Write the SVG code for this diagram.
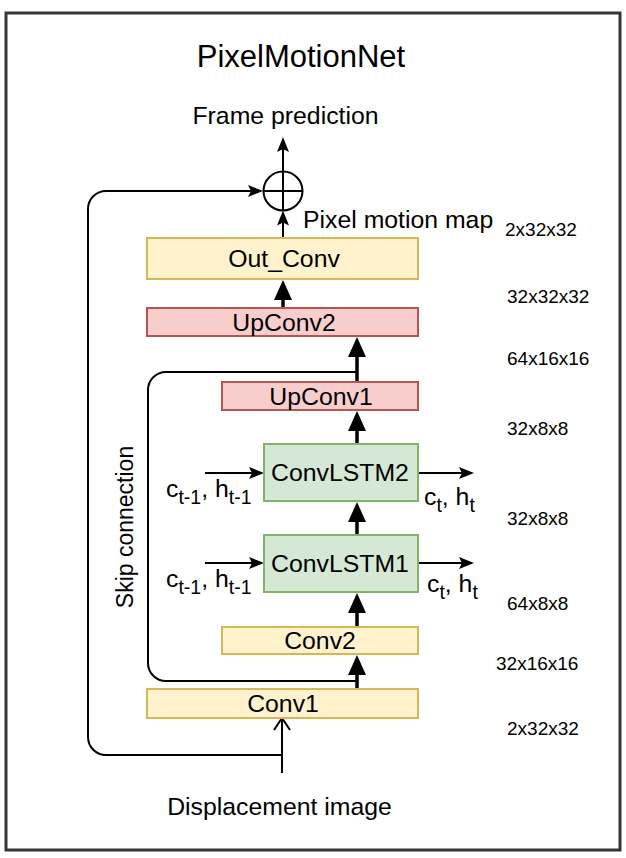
<svg xmlns="http://www.w3.org/2000/svg" width="626" height="858" viewBox="0 0 626 858">
<style>
  text { font-family: "Liberation Sans", Arial, sans-serif; fill: #000; }
  .lbl { font-size: 24.8px; }
  .ctr { text-anchor: middle; }
  .dim { font-size: 19px; }
  .sub { font-size: 19.5px; }
  .yel { fill: #fff2cc; stroke: #d6b656; stroke-width: 2; }
  .red { fill: #f8cecc; stroke: #b85450; stroke-width: 2; }
  .grn { fill: #d5e8d4; stroke: #82b366; stroke-width: 2; }
  .thin { fill: none; stroke: #000; stroke-width: 2; }
  .thick { fill: none; stroke: #000; stroke-width: 3.5; }
</style>
<defs>
  <marker id="big" viewBox="0 0 20 18" refX="8" refY="9" markerWidth="20" markerHeight="18" markerUnits="userSpaceOnUse" orient="auto">
    <path d="M0,0 L20,9 L0,18 z" fill="#000"/>
  </marker>
  <marker id="small" viewBox="0 0 15 12" refX="6" refY="6" markerWidth="15" markerHeight="12" markerUnits="userSpaceOnUse" orient="auto">
    <path d="M0,0 L15,6 L0,12 L3,6 z" fill="#000"/>
  </marker>
  <marker id="open" viewBox="0 0 14 18" refX="13" refY="9" markerWidth="14" markerHeight="18" markerUnits="userSpaceOnUse" orient="auto">
    <path d="M1,1 L13,9 L1,17" fill="none" stroke="#000" stroke-width="2"/>
  </marker>
</defs>
<rect x="0" y="0" width="626" height="858" fill="#fff"/>
<rect id="frame" x="6" y="13" width="614" height="837" fill="none" stroke="#363636" stroke-width="3"/>

<text id="title" x="301" y="67" class="ctr" style="font-size:31px">PixelMotionNet</text>
<text id="frame-prediction" x="285.5" y="124" class="lbl ctr">Frame prediction</text>
<text id="displacement-image" x="279.5" y="815" class="lbl ctr">Displacement image</text>
<text id="pixel-motion-map" x="303" y="228" class="lbl">Pixel motion map</text>
<text id="skip-label" transform="translate(133,527) rotate(-90)" class="ctr" style="font-size:23px">Skip connection</text>

<g id="dims" class="dim">
  <text x="505" y="236" class="dim">2x32x32</text>
  <text x="507" y="303" class="dim">32x32x32</text>
  <text x="507" y="365" class="dim">64x16x16</text>
  <text x="507" y="435" class="dim">32x8x8</text>
  <text x="507" y="525" class="dim">32x8x8</text>
  <text x="507" y="610" class="dim">64x8x8</text>
  <text x="496" y="670" class="dim">32x16x16</text>
  <text x="507" y="735" class="dim">2x32x32</text>
</g>

<g id="connectors">
  <path class="thin" d="M282,773 V718" marker-end="url(#open)"/>
  <path class="thin" d="M282,755 H106 A18,18 0 0 1 88,737 V209 A18,18 0 0 1 106,191 H254" marker-end="url(#small)"/>
  <path class="thin" d="M283,171.5 V146" marker-end="url(#small)"/>
  <path class="thin" d="M283,238 V219.5" marker-end="url(#small)"/>
  <path class="thick" d="M283,308 V292" marker-end="url(#big)"/>
  <path class="thick" d="M357,382 V349" marker-end="url(#big)"/>
  <path class="thick" d="M357,444 V423" marker-end="url(#big)"/>
  <path class="thick" d="M357,535 V514" marker-end="url(#big)"/>
  <path class="thick" d="M357,627 V605" marker-end="url(#big)"/>
  <path class="thick" d="M357,689 V667" marker-end="url(#big)"/>
  <path class="thin" d="M357,681 H166 A18,18 0 0 1 148,663 V390 A18,18 0 0 1 166,372 H357"/>
  <path class="thin" d="M205,473 H255" marker-end="url(#small)"/>
  <path class="thin" d="M205,563 H255" marker-end="url(#small)"/>
  <path class="thin" d="M418,473 H465" marker-end="url(#small)"/>
  <path class="thin" d="M418,563 H465" marker-end="url(#small)"/>
</g>

<g id="sum">
  <circle cx="283" cy="191" r="19.5" fill="#fff" stroke="#000" stroke-width="2"/>
  <path d="M263.5,191 H302.5 M283,171.5 V210.5" stroke="#000" stroke-width="2"/>
</g>

<g id="out-conv">
  <rect class="yel" x="147" y="238" width="271" height="41"/>
  <text x="284" y="267" class="lbl ctr">Out_Conv</text>
</g>
<g id="upconv2">
  <rect class="red" x="147" y="308" width="271" height="28"/>
  <text x="284" y="331" class="lbl ctr">UpConv2</text>
</g>
<g id="upconv1">
  <rect class="red" x="222" y="382" width="196" height="28"/>
  <text x="321" y="405" class="lbl ctr">UpConv1</text>
</g>
<g id="convlstm2">
  <rect class="grn" x="264" y="444" width="154" height="57"/>
  <text x="340" y="481" class="lbl ctr">ConvLSTM2</text>
  <text x="166" y="497" class="lbl">c<tspan class="sub" dy="7">t-1</tspan><tspan dy="-7">, h</tspan><tspan class="sub" dy="7">t-1</tspan></text>
  <text x="424" y="505" class="lbl">c<tspan class="sub" dy="7">t</tspan><tspan dy="-7">, h</tspan><tspan class="sub" dy="7">t</tspan></text>
</g>
<g id="convlstm1">
  <rect class="grn" x="264" y="535" width="154" height="57"/>
  <text x="340" y="572" class="lbl ctr">ConvLSTM1</text>
  <text x="166" y="587" class="lbl">c<tspan class="sub" dy="7">t-1</tspan><tspan dy="-7">, h</tspan><tspan class="sub" dy="7">t-1</tspan></text>
  <text x="427" y="592" class="lbl">c<tspan class="sub" dy="7">t</tspan><tspan dy="-7">, h</tspan><tspan class="sub" dy="7">t</tspan></text>
</g>
<g id="conv2">
  <rect class="yel" x="222" y="627" width="196" height="27"/>
  <text x="320" y="649" class="lbl ctr">Conv2</text>
</g>
<g id="conv1">
  <rect class="yel" x="147" y="689" width="271" height="29"/>
  <text x="283" y="712" class="lbl ctr">Conv1</text>
</g>
</svg>
